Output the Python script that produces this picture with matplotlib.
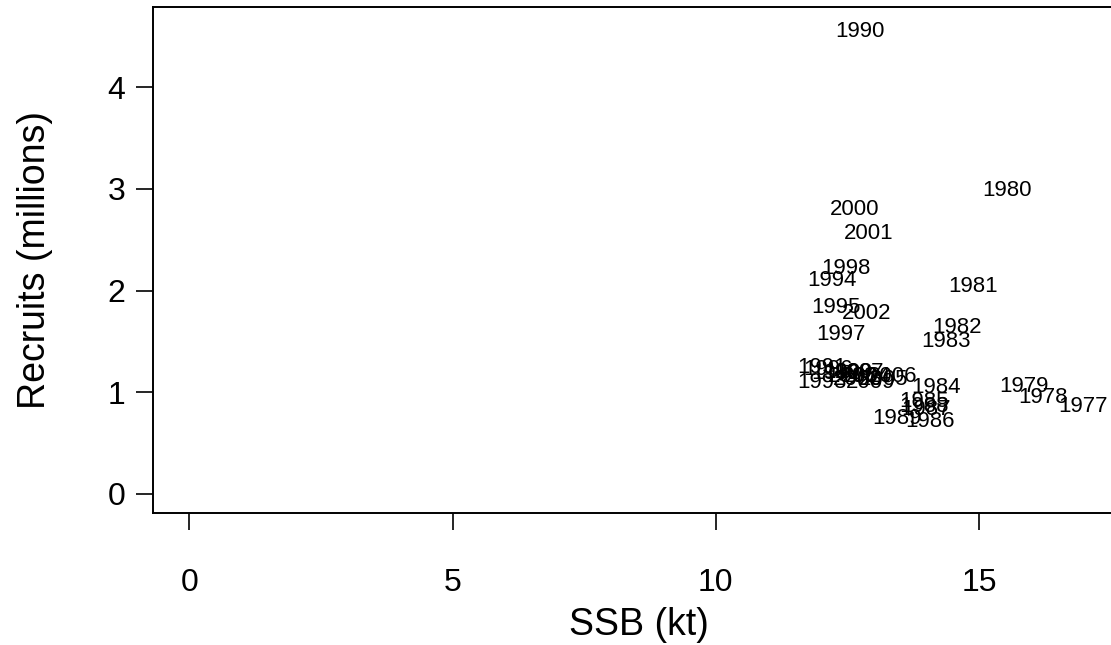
import matplotlib.pyplot as plt

# stock-recruitment pairs, one label per year class
years = [1977, 1978, 1979, 1980, 1981, 1982, 1983, 1984, 1985, 1986,
         1987, 1988, 1989, 1990, 1991, 1992, 1993, 1994, 1995, 1996,
         1997, 1998, 1999, 2000, 2001, 2002, 2003, 2004, 2005, 2006,
         2007, 2008, 2009]
ssb = [16.97, 16.22, 15.85, 15.53, 14.89, 14.58, 14.37, 14.18, 13.96, 14.07,
       13.99, 13.96, 13.44, 12.74, 12.02, 12.28, 12.02, 12.21, 12.29, 12.13,
       12.38, 12.47, 12.51, 12.63, 12.91, 12.86, 12.70, 12.86, 13.19, 13.36,
       12.74, 12.59, 12.93]
recruits = [0.86, 0.95, 1.06, 2.98, 2.04, 1.64, 1.50, 1.05, 0.91, 0.71,
            0.83, 0.86, 0.74, 4.55, 1.24, 1.18, 1.10, 2.10, 1.83, 1.22,
            1.57, 2.22, 1.19, 2.80, 2.56, 1.77, 1.13, 1.15, 1.13, 1.15,
            1.19, 1.15, 1.10]

plt.rcParams['font.family'] = ['Liberation Sans', 'DejaVu Sans']

fig = plt.figure(figsize=(11.11, 6.45), dpi=100)
ax = fig.add_axes([0.138, 0.2051, 0.875, 0.7836])

for yr, x, y in zip(years, ssb, recruits):
    ax.text(x, y, str(yr), ha='center', va='center', fontsize=16)

ax.set_xlim(-0.684, 17.78)
ax.set_ylim(-0.184, 4.784)
ax.set_xticks([0, 5, 10, 15])
ax.set_yticks([0, 1, 2, 3, 4])

for s in ax.spines.values():
    s.set_linewidth(1.4)
ax.tick_params(direction='out', length=12, width=1.2, labelsize=23)
ax.tick_params(axis='x', pad=28)
ax.tick_params(axis='y', pad=8)

ax.set_xlabel('SSB (kt)', fontsize=27, labelpad=6)
ax.set_ylabel('Recruits (millions)', fontsize=27, labelpad=39)

fig.savefig('out.png', dpi=100)
